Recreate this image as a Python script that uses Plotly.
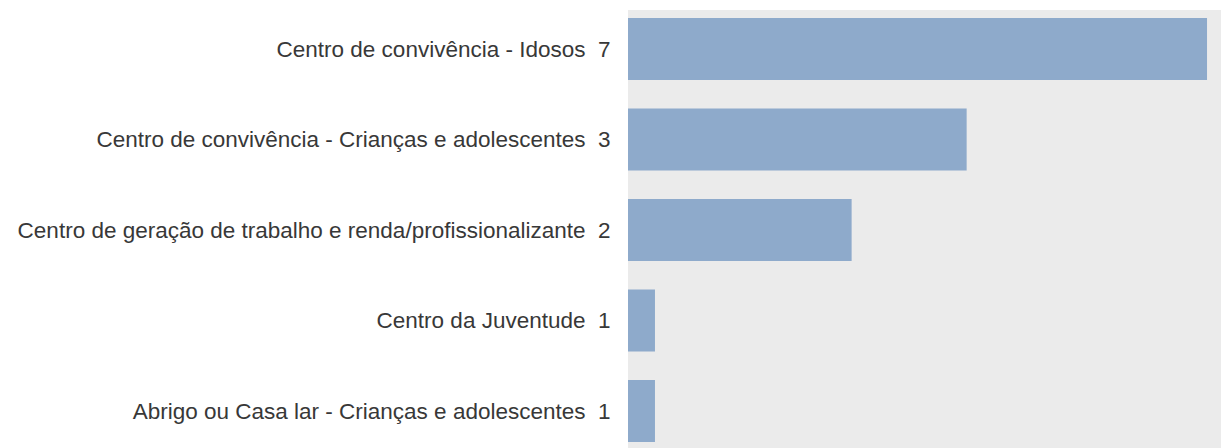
import plotly.graph_objects as go

categories = [
    "Centro de convivência - Idosos",
    "Centro de convivência - Crianças e adolescentes",
    "Centro de geração de trabalho e renda/profissionalizante",
    "Centro da Juventude",
    "Abrigo ou Casa lar - Crianças e adolescentes",
]
values = [7, 3, 2, 1, 1]

tick_labels = [f"{c}  {v}" for c, v in zip(categories, values)]
positions = list(range(len(categories)))

fig = go.Figure(
    go.Bar(
        x=values,
        y=positions,
        orientation="h",
        marker=dict(color="#8eaacb", line=dict(width=0)),
        width=0.685,
        hoverinfo="skip",
    )
)

fig.update_layout(
    width=1221,
    height=448,
    margin=dict(l=628, r=0, t=10, b=0),
    paper_bgcolor="white",
    plot_bgcolor="#ebebeb",
    showlegend=False,
    font=dict(family="Liberation Sans, Arial, sans-serif", size=22.5, color="#383838"),
)
fig.update_xaxes(
    type="log",
    range=[-0.0413, 0.8665],
    showgrid=False,
    zeroline=False,
    showticklabels=False,
    ticks="",
    showline=False,
)
fig.update_yaxes(
    tickmode="array",
    tickvals=positions,
    ticktext=tick_labels,
    range=[4.409, -0.431],
    showgrid=False,
    zeroline=False,
    ticks="outside",
    ticklen=12,
    tickcolor="rgba(0,0,0,0)",
    showline=False,
)

fig.write_html("out.html")
